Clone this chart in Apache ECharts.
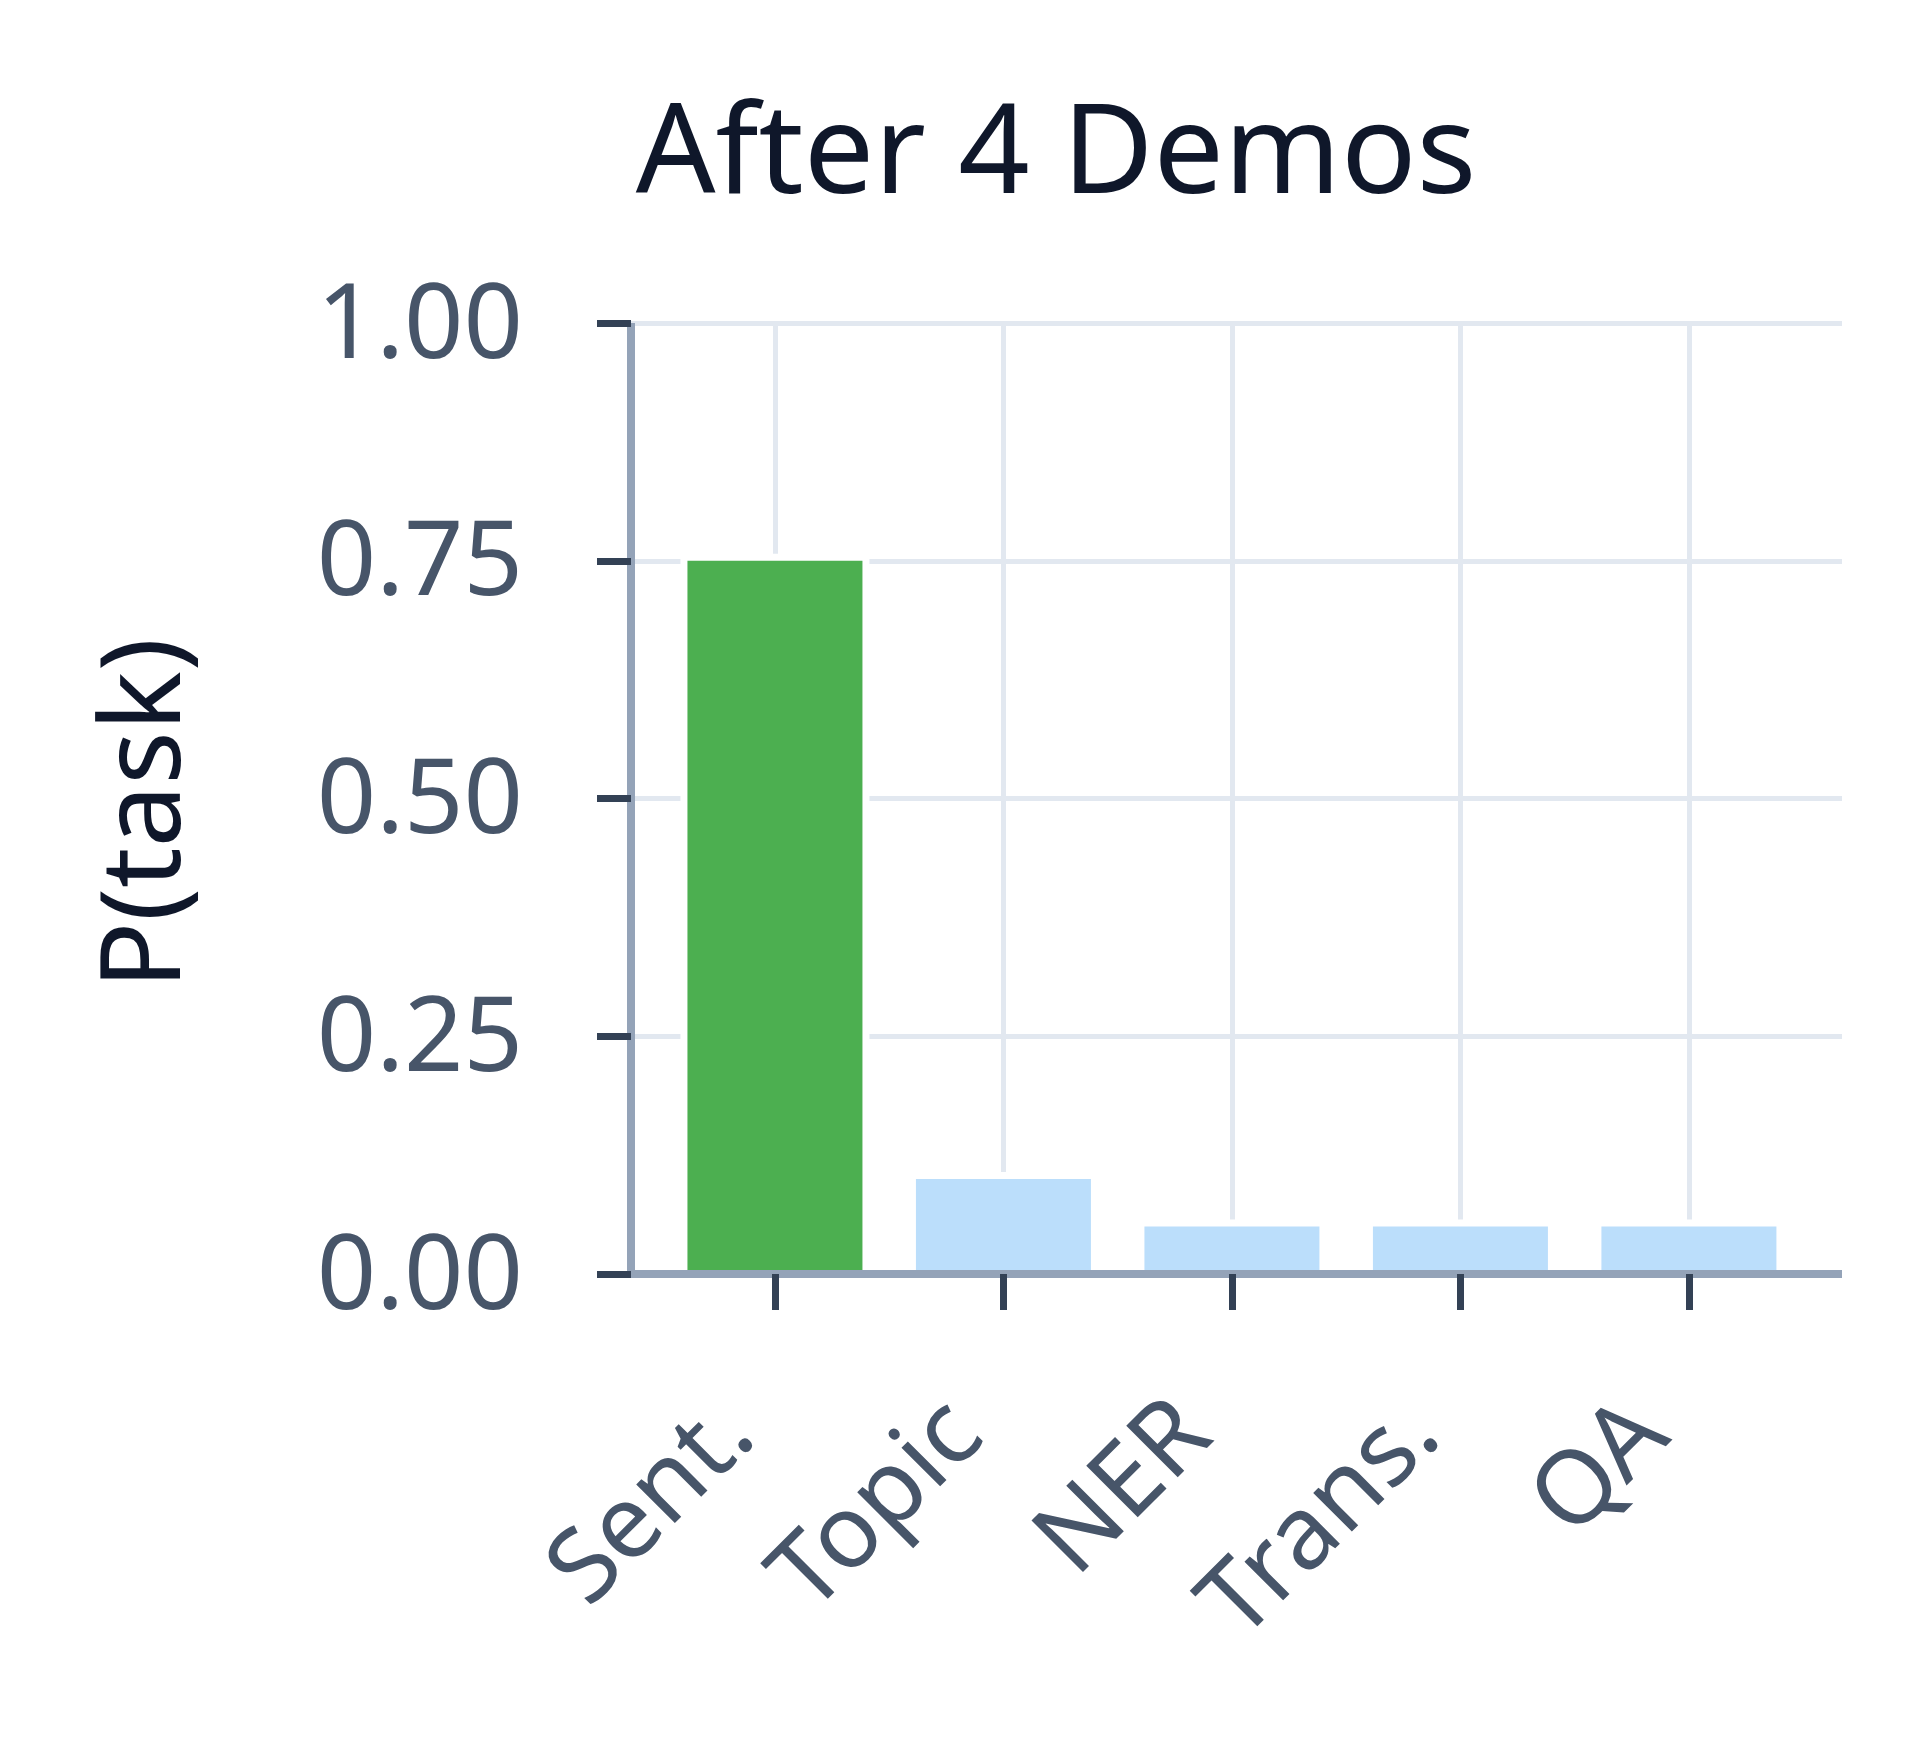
<!DOCTYPE html>
<html>
<head>
<meta charset="utf-8">
<script src="https://cdn.jsdelivr.net/npm/echarts@6/dist/echarts.min.js"></script>
<style>
html,body{margin:0;padding:0;background:#ffffff;}
#chart{width:1920px;height:1738px;}
</style>
</head>
<body>
<div id="chart"></div>
<script>
const titleText = 'After 4 Demos';
const yAxisName = 'P(task)';
const categories = ['Sent.', 'Topic', 'NER', 'Trans.', 'QA'];
const probabilities = [0.75, 0.10, 0.05, 0.05, 0.05];
const barColors = ['#4caf50', '#bbdefb', '#bbdefb', '#bbdefb', '#bbdefb'];
const yTicks = [0, 0.25, 0.5, 0.75, 1.0];

const catIndex = categories.map((c, i) => i);
const FONT = 'Noto Sans';
const BAR_W = 175;
const HALO = 7;
const X_MIN = -0.63;
const X_MAX = 4.67;

const chart = echarts.init(document.getElementById('chart'), null, {renderer: 'canvas'});

const gridDef = {left: 631, right: 78, top: 323, bottom: 464, containLabel: false, outerBoundsMode: 'none'};

chart.setOption({
  backgroundColor: '#ffffff',
  animation: false,
  title: {
    text: titleText,
    left: 1051,
    textAlign: 'center',
    top: 90,
    textStyle: {fontFamily: FONT, fontSize: 125, fontWeight: 'normal', color: '#0f172a', lineHeight: 125}
  },
  grid: gridDef,
  xAxis: [
    {
      type: 'value',
      position: 'bottom',
      min: X_MIN,
      max: X_MAX,
      z: 10,
      axisLine: {show: true, onZero: false, lineStyle: {color: '#94a3b8', width: 8, cap: 'butt'}},
      axisTick: {show: true, length: 36, customValues: catIndex, lineStyle: {color: '#334155', width: 7}},
      axisLabel: {
        show: true,
        customValues: catIndex,
        rotate: 45,
        margin: 108,
        padding: [0, 52, 0, 0],
        fontFamily: FONT,
        fontSize: 102,
        color: '#475569',
        formatter: v => categories[Math.round(v)]
      },
      splitLine: {show: false}
    },
    {
      type: 'value',
      position: 'top',
      min: X_MIN,
      max: X_MAX,
      z: 0,
      axisLine: {show: false, onZero: false},
      axisTick: {show: false, customValues: catIndex},
      axisLabel: {show: false, customValues: catIndex},
      splitLine: {show: true, lineStyle: {color: '#e2e8f0', width: 5}}
    }
  ],
  yAxis: [
    {
      type: 'value',
      position: 'left',
      min: yTicks[0],
      max: yTicks[yTicks.length - 1],
      interval: 0.25,
      z: 10,
      name: yAxisName,
      nameLocation: 'middle',
      nameGap: 427,
      nameRotate: 90,
      nameTextStyle: {fontFamily: FONT, fontSize: 112, color: '#0f172a', lineHeight: 112, padding: [0, 30, 0, 0]},
      axisLine: {show: true, onZero: false, lineStyle: {color: '#94a3b8', width: 8, cap: 'butt'}},
      axisTick: {show: true, length: 34, lineStyle: {color: '#334155', width: 7}},
      axisLabel: {
        show: true,
        margin: 108,
        verticalAlign: 'top',
        lineHeight: 10,
        fontFamily: FONT,
        fontSize: 104,
        color: '#475569',
        formatter: v => v.toFixed(2)
      },
      splitLine: {show: false}
    },
    {
      type: 'value',
      position: 'right',
      min: yTicks[0],
      max: yTicks[yTicks.length - 1],
      interval: 0.25,
      z: 0,
      axisLine: {show: false, onZero: false},
      axisTick: {show: false},
      axisLabel: {show: false},
      splitLine: {show: true, lineStyle: {color: '#e2e8f0', width: 5}}
    }
  ],
  series: [
    {
      name: 'halo',
      type: 'custom',
      xAxisIndex: 0,
      yAxisIndex: 0,
      z: 1,
      silent: true,
      renderItem: function (params, api) {
        const top = api.coord([api.value(0), api.value(1)]);
        const base = api.coord([api.value(0), 0]);
        const half = BAR_W / 2 + HALO;
        return {
          type: 'rect',
          shape: {x: top[0] - half, y: top[1] - HALO, width: half * 2, height: base[1] - top[1] + HALO},
          style: {fill: '#ffffff'}
        };
      },
      data: catIndex.map(i => [i, probabilities[i]])
    },
    {
      name: 'P(task)',
      type: 'bar',
      xAxisIndex: 0,
      yAxisIndex: 0,
      z: 2,
      barWidth: BAR_W,
      data: catIndex.map(i => ({value: [i, probabilities[i]], itemStyle: {color: barColors[i]}}))
    }
  ]
});
</script>
</body>
</html>
